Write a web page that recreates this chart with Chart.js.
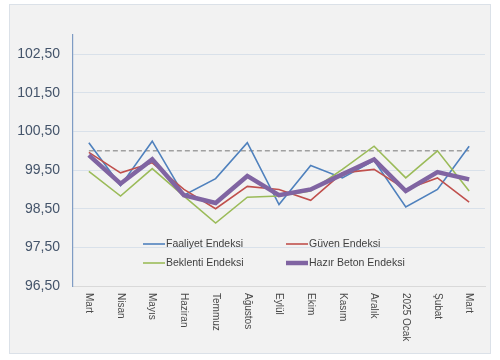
<!DOCTYPE html>
<html>
<head>
<meta charset="utf-8">
<script src="https://cdn.jsdelivr.net/npm/chart.js@4"></script>
<style>
html,body{margin:0;padding:0;background:#fff;}
canvas{display:block;}
</style>
</head>
<body>
<canvas id="c" width="500" height="360"></canvas>
<script>
const categories = ["Mart","Nisan","Mayıs","Haziran","Temmuz","Ağustos","Eylül","Ekim","Kasım","Aralık","2025 Ocak","Şubat","Mart"];
const faaliyet = [100.21, 99.10, 100.25, 98.85, 99.28, 100.21, 98.61, 99.62, 99.30, 99.75, 98.55, 99.00, 100.12];
const guven    = [99.96, 99.43, 99.69, 99.00, 98.50, 99.08, 99.00, 98.72, 99.43, 99.52, 99.00, 99.30, 98.67];
const beklenti = [99.47, 98.83, 99.54, 98.83, 98.13, 98.80, 98.83, 98.96, 99.52, 100.12, 99.30, 100.00, 98.96];
const hazir    = [99.89, 99.15, 99.78, 98.85, 98.65, 99.35, 98.85, 99.00, 99.39, 99.78, 98.96, 99.45, 99.26];
const esik     = [100,100,100,100,100,100,100,100,100,100,100,100,100];
const yTicks = [96.5, 97.5, 98.5, 99.5, 100.5, 101.5, 102.5];
const yMin = 96.5, yMax = 103;
const fmt = v => v.toFixed(2).replace('.', ',');

const bgPlugin = {
  id: 'bg',
  beforeDraw(chart) {
    const ctx = chart.ctx;
    ctx.save();
    ctx.fillStyle = '#ffffff';
    ctx.fillRect(0, 0, chart.width, chart.height);
    ctx.fillStyle = '#f2f2f2';
    ctx.fillRect(9, 4, 481, 349);
    ctx.strokeStyle = '#dbe1e8';
    ctx.lineWidth = 1;
    ctx.strokeRect(9.5, 4.5, 481, 349);
    ctx.restore();
  }
};

const xLabelPlugin = {
  id: 'xlabels',
  afterDraw(chart) {
    const ctx = chart.ctx;
    const xs = chart.scales.x;
    const top = chart.chartArea.bottom + 7;
    ctx.save();
    ctx.font = '10px "Liberation Sans", Arial, sans-serif';
    ctx.fillStyle = '#4a4a4a';
    ctx.textAlign = 'left';
    ctx.textBaseline = 'middle';
    categories.forEach((lab, i) => {
      const x = xs.getPixelForValue(i);
      ctx.save();
      ctx.translate(x, top);
      ctx.rotate(Math.PI / 2);
      ctx.fillText(lab, 0, 0);
      ctx.restore();
    });
    ctx.restore();
  }
};

const legendPlugin = {
  id: 'inlegend',
  afterDraw(chart) {
    const ctx = chart.ctx;
    const ds = chart.data.datasets.filter(d => d.showInLegend);
    const pos = [[143, 244], [286, 244], [143, 263], [286, 263]];
    ctx.save();
    ctx.font = '10.5px "Liberation Sans", Arial, sans-serif';
    ctx.fillStyle = '#404040';
    ctx.textBaseline = 'middle';
    ctx.textAlign = 'left';
    ds.forEach((d, i) => {
      const [x, y] = pos[i];
      ctx.strokeStyle = d.borderColor;
      ctx.lineWidth = d.borderWidth;
      ctx.beginPath();
      ctx.moveTo(x, y);
      ctx.lineTo(x + 22, y);
      ctx.stroke();
      ctx.fillText(d.label, x + 23, y);
    });
    ctx.restore();
  }
};

new Chart(document.getElementById('c'), {
  type: 'line',
  data: {
    labels: categories,
    datasets: [
      { label: 'Faaliyet Endeksi', data: faaliyet, borderColor: '#4f81bd', borderWidth: 1.6, order: 4, showInLegend: true },
      { label: 'Güven Endeksi', data: guven, borderColor: '#c0504d', borderWidth: 1.6, order: 3, showInLegend: true },
      { label: 'Beklenti Endeksi', data: beklenti, borderColor: '#9bbb59', borderWidth: 1.6, order: 2, showInLegend: true },
      { label: 'Hazır Beton Endeksi', data: hazir, borderColor: '#8064a2', borderWidth: 4.5, order: 1, showInLegend: true },
      { label: 'Eşik', data: esik, borderColor: '#a0a0a0', borderWidth: 1.5, borderDash: [5, 3], order: 5, showInLegend: false }
    ]
  },
  options: {
    responsive: false,
    animation: false,
    devicePixelRatio: 1,
    layout: { padding: { left: 0, top: 35, right: 15, bottom: 0 } },
    elements: { point: { radius: 0, hoverRadius: 0 }, line: { tension: 0, fill: false, borderCapStyle: 'butt', borderJoinStyle: 'miter' } },
    plugins: { legend: { display: false }, tooltip: { enabled: false } },
    scales: {
      x: {
        type: 'category',
        offset: true,
        grid: { display: false },
        border: { display: true, color: '#d9d9d9', width: 1 },
        ticks: { display: false },
        afterFit(s) { s.height = 74; }
      },
      y: {
        min: yMin,
        max: yMax,
        afterBuildTicks(s) { s.ticks = yTicks.map(v => ({ value: v })); },
        afterFit(s) { s.width = 73; },
        grid: { color: '#d9e1ea', lineWidth: 1, drawTicks: false },
        border: { display: true, color: '#7f9cc4', width: 1.2 },
        ticks: {
          padding: 13,
          color: '#44546a',
          font: { family: '"Liberation Sans", Arial, sans-serif', size: 14 },
          callback: v => fmt(v)
        }
      }
    }
  },
  plugins: [bgPlugin, xLabelPlugin, legendPlugin]
});
</script>
</body>
</html>
